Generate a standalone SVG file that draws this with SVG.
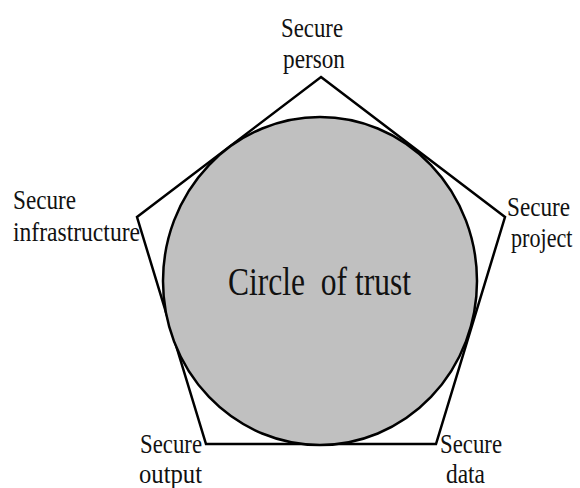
<svg xmlns="http://www.w3.org/2000/svg" width="580" height="488" viewBox="0 0 580 488">
  <style>
    .lbl { font-family: "Liberation Serif", "Times New Roman", serif; font-size: 27px; fill: #111; }
    .big { font-family: "Liberation Serif", "Times New Roman", serif; font-size: 41px; fill: #111; white-space: pre; }
    .pent { fill: none; stroke: #000; stroke-width: 2.5; stroke-linejoin: miter; }
    .trust { fill: #c0c0c0; stroke: #000; stroke-width: 2.5; }
  </style>
  <rect width="580" height="488" fill="#fff"/>

  <g id="connectors">
    <polygon class="pent" points="321,77 505,217 436,444 206,444 137,217"/>
  </g>

  <g id="circle-of-trust">
    <ellipse class="trust" cx="320" cy="281" rx="157" ry="164"/>
    <text class="big" x="228" y="295" textLength="183" lengthAdjust="spacingAndGlyphs">Circle  of trust</text>
  </g>

  <g id="secure-person">
    <text class="lbl" x="281" y="37" textLength="62" lengthAdjust="spacingAndGlyphs">Secure</text>
    <text class="lbl" x="283" y="68" textLength="62" lengthAdjust="spacingAndGlyphs">person</text>
  </g>

  <g id="secure-project">
    <text class="lbl" x="507" y="216" textLength="63" lengthAdjust="spacingAndGlyphs">Secure</text>
    <!-- narrowed with a horizontal scale so it stays inside the right edge -->
    <text class="lbl" transform="translate(511,247) scale(0.82,1)">project</text>
  </g>

  <g id="secure-infrastructure">
    <text class="lbl" x="13" y="209" textLength="63" lengthAdjust="spacingAndGlyphs">Secure</text>
    <text class="lbl" x="13" y="241" textLength="127" lengthAdjust="spacingAndGlyphs">infrastructure</text>
  </g>

  <g id="secure-output">
    <text class="lbl" x="140" y="453" textLength="62" lengthAdjust="spacingAndGlyphs">Secure</text>
    <text class="lbl" x="139" y="483" textLength="63" lengthAdjust="spacingAndGlyphs">output</text>
  </g>

  <g id="secure-data">
    <text class="lbl" x="440" y="453" textLength="62" lengthAdjust="spacingAndGlyphs">Secure</text>
    <text class="lbl" x="446" y="483" textLength="39" lengthAdjust="spacingAndGlyphs">data</text>
  </g>
</svg>
